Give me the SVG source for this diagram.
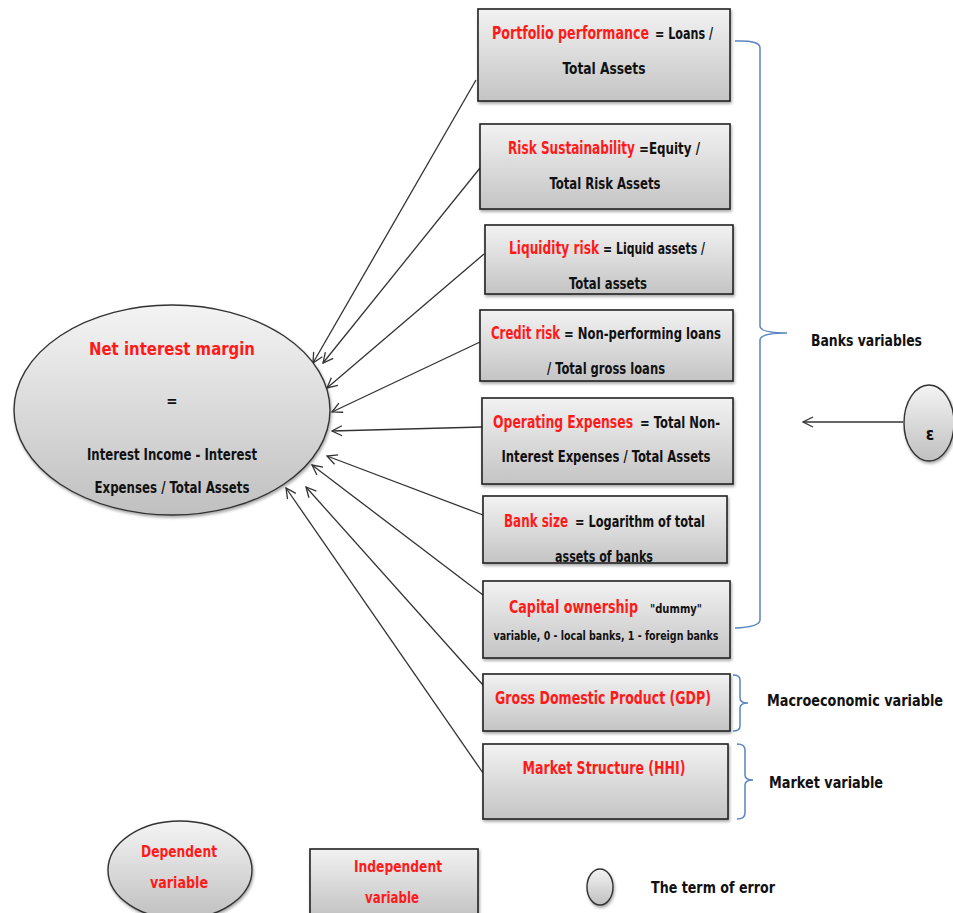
<svg xmlns="http://www.w3.org/2000/svg" width="953" height="913" viewBox="0 0 953 913">
<defs>
<linearGradient id="gb" x1="0" y1="0" x2="0" y2="1">
<stop offset="0" stop-color="#f2f2f2"/><stop offset="1" stop-color="#c4c4c4"/>
</linearGradient>
<linearGradient id="ge" x1="0" y1="0" x2="0" y2="1">
<stop offset="0" stop-color="#f4f4f4"/><stop offset="1" stop-color="#c0c0c0"/>
</linearGradient>
<filter id="sh" x="-10%" y="-10%" width="130%" height="130%">
<feGaussianBlur in="SourceAlpha" stdDeviation="1.5"/><feOffset dx="1" dy="2"/>
<feComponentTransfer><feFuncA type="linear" slope="0.35"/></feComponentTransfer>
<feMerge><feMergeNode/><feMergeNode in="SourceGraphic"/></feMerge>
</filter>
<marker id="ah" viewBox="0 0 12 12" refX="11" refY="6" markerWidth="12" markerHeight="12" markerUnits="userSpaceOnUse" orient="auto">
<path d="M1,1 L11,6 L1,11" fill="none" stroke="#333" stroke-width="1.3"/>
</marker>
</defs>
<style>
.box{fill:url(#gb);stroke:#222;stroke-width:1.6;filter:url(#sh)}
.ell{fill:url(#ge);stroke:#333;stroke-width:1.4;filter:url(#sh)}
text{font-family:"Liberation Sans Narrow","DejaVu Sans Condensed","Roboto Condensed",sans-serif;font-weight:bold}
.r{fill:#ff1a1a;font-size:17px}
.k{fill:#111;font-size:15px}
.s{fill:#111;font-size:12px}
.c{text-anchor:middle}
.con line{stroke:#333;stroke-width:1.3;marker-end:url(#ah)}
.br{fill:none;stroke:#5b85c0;stroke-width:1.5}
</style>
<rect width="953" height="913" fill="#fff"/>

<g id="connectors" class="con">
<line x1="476" y1="80" x2="313" y2="363"/>
<line x1="480" y1="168" x2="323" y2="363"/>
<line x1="484" y1="254" x2="327" y2="388"/>
<line x1="480" y1="342" x2="332" y2="412"/>
<line x1="482" y1="427" x2="332" y2="431"/>
<line x1="483" y1="515" x2="327" y2="456"/>
<line x1="483" y1="595" x2="312" y2="465"/>
<line x1="483" y1="685" x2="306" y2="487"/>
<line x1="483" y1="773" x2="286" y2="488"/>
<line x1="903" y1="422" x2="803" y2="422"/>
</g>

<g id="braces">
<path class="br" d="M735,41 Q760,40 760,48 L760,326 Q760,333 787,333 Q760,333 760,340 L760,620 Q760,627 735,628"/>
<path class="br" d="M733,675 Q740,675 740,680 L740,698 Q740,703 748,703 Q740,703 740,708 L740,726 Q740,731 733,731"/>
<path class="br" d="M737,744 Q745,744 745,750 L745,775 Q745,780 753,780 Q745,780 745,785 L745,813 Q745,819 737,819"/>
</g>

<g id="nim">
<ellipse class="ell" cx="172" cy="410" rx="158" ry="105"/>
<text class="r c" x="172" y="355" textLength="166" lengthAdjust="spacingAndGlyphs">Net interest margin</text>
<text class="k c" x="172" y="406">=</text>
<text class="k c" x="172" y="460" textLength="170" lengthAdjust="spacingAndGlyphs">Interest Income - Interest</text>
<text class="k c" x="172" y="493" textLength="155" lengthAdjust="spacingAndGlyphs">Expenses / Total Assets</text>
</g>

<g id="portfolio">
<rect class="box" x="478" y="9" width="252" height="92"/>
<text class="r" x="492" y="39" textLength="157" lengthAdjust="spacingAndGlyphs">Portfolio performance</text>
<text class="k" x="655" y="39" textLength="58" lengthAdjust="spacingAndGlyphs">= Loans /</text>
<text class="k c" x="604" y="74" textLength="83" lengthAdjust="spacingAndGlyphs">Total Assets</text>
</g>

<g id="risk">
<rect class="box" x="480" y="124" width="250" height="85"/>
<text class="r" x="508" y="154" textLength="127" lengthAdjust="spacingAndGlyphs">Risk Sustainability</text>
<text class="k" x="639" y="154" textLength="61" lengthAdjust="spacingAndGlyphs">=Equity /</text>
<text class="k c" x="605" y="189" textLength="111" lengthAdjust="spacingAndGlyphs">Total Risk Assets</text>
</g>

<g id="liquidity">
<rect class="box" x="485" y="225" width="248" height="69"/>
<text class="r" x="509" y="254" textLength="90" lengthAdjust="spacingAndGlyphs">Liquidity risk</text>
<text class="k" x="603" y="254" textLength="102" lengthAdjust="spacingAndGlyphs">= Liquid assets /</text>
<text class="k c" x="608" y="289" textLength="78" lengthAdjust="spacingAndGlyphs">Total assets</text>
</g>

<g id="credit">
<rect class="box" x="480" y="310" width="253" height="71"/>
<text class="r" x="491" y="339" textLength="69" lengthAdjust="spacingAndGlyphs">Credit risk</text>
<text class="k" x="564" y="339" textLength="157" lengthAdjust="spacingAndGlyphs">= Non-performing loans</text>
<text class="k c" x="606" y="374" textLength="118" lengthAdjust="spacingAndGlyphs">/ Total  gross loans</text>
</g>

<g id="operating">
<rect class="box" x="482" y="398" width="251" height="86"/>
<text class="r" x="493" y="428" textLength="140" lengthAdjust="spacingAndGlyphs">Operating Expenses</text>
<text class="k" x="640" y="428" textLength="80" lengthAdjust="spacingAndGlyphs">= Total Non-</text>
<text class="k c" x="606" y="462" textLength="209" lengthAdjust="spacingAndGlyphs">Interest Expenses / Total Assets</text>
</g>

<g id="banksize">
<rect class="box" x="483" y="496" width="244" height="67"/>
<text class="r" x="504" y="527" textLength="64" lengthAdjust="spacingAndGlyphs">Bank size</text>
<text class="k" x="575" y="527" textLength="130" lengthAdjust="spacingAndGlyphs">= Logarithm of total</text>
<text class="k c" x="604" y="562" textLength="98" lengthAdjust="spacingAndGlyphs">assets of banks</text>
</g>

<g id="capital">
<rect class="box" x="483" y="581" width="247" height="77"/>
<text class="r" x="509" y="613" textLength="129" lengthAdjust="spacingAndGlyphs">Capital ownership</text>
<text class="s" x="650" y="613" textLength="52" lengthAdjust="spacingAndGlyphs">"dummy"</text>
<text class="s c" x="606" y="640" textLength="225" lengthAdjust="spacingAndGlyphs">variable, 0 - local banks, 1 - foreign banks</text>
</g>

<g id="gdp">
<rect class="box" x="483" y="674" width="247" height="57"/>
<text class="r c" x="603" y="704" textLength="216" lengthAdjust="spacingAndGlyphs">Gross Domestic Product (GDP)</text>
</g>

<g id="market">
<rect class="box" x="483" y="744" width="245" height="75"/>
<text class="r c" x="604" y="774" textLength="163" lengthAdjust="spacingAndGlyphs">Market Structure (HHI)</text>
</g>

<g id="labels">
<text class="k" x="811" y="346" textLength="111" lengthAdjust="spacingAndGlyphs">Banks variables</text>
<text class="k" x="767" y="706" textLength="176" lengthAdjust="spacingAndGlyphs">Macroeconomic variable</text>
<text class="k" x="769" y="788" textLength="114" lengthAdjust="spacingAndGlyphs">Market variable</text>
</g>

<g id="epsilon">
<ellipse class="ell" cx="929" cy="423" rx="25" ry="38"/>
<text class="k c" x="930" y="440" style="font-size:17px">ε</text>
</g>

<g id="legend-dependent">
<ellipse class="ell" cx="180" cy="870" rx="72" ry="49"/>
<text class="r c" x="179" y="857" style="font-size:15px" textLength="76" lengthAdjust="spacingAndGlyphs">Dependent</text>
<text class="r c" x="179" y="888" style="font-size:15px" textLength="58" lengthAdjust="spacingAndGlyphs">variable</text>
</g>

<g id="legend-independent">
<rect class="box" x="310" y="849" width="168" height="66"/>
<text class="r c" x="398" y="872" style="font-size:15px" textLength="88" lengthAdjust="spacingAndGlyphs">Independent</text>
<text class="r c" x="392" y="903" style="font-size:15px" textLength="54" lengthAdjust="spacingAndGlyphs">variable</text>
</g>

<g id="legend-error">
<ellipse class="ell" cx="600" cy="887" rx="13" ry="18"/>
<text class="k" x="651" y="893" textLength="124" lengthAdjust="spacingAndGlyphs">The term of error</text>
</g>
</svg>
